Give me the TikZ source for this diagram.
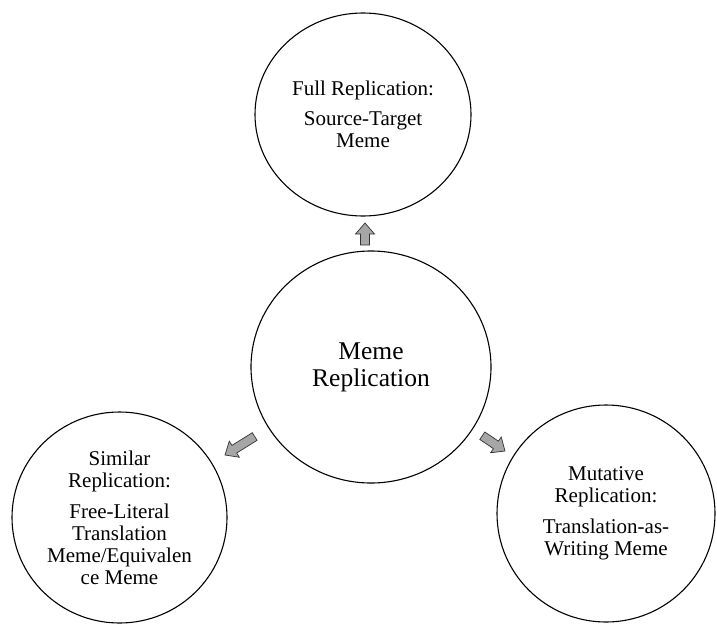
\documentclass[tikz,border=0pt]{standalone}
\usepackage{fontspec}
\setmainfont{Liberation Serif}
\usetikzlibrary{shapes.geometric}
\definecolor{arrowgray}{HTML}{A6A6A6}
\tikzset{
  bubble/.style={ellipse, draw=black, line width=1.1pt, inner sep=0pt, align=center,
    font=\fontsize{21}{22}\selectfont},
  bigbubble/.style={bubble, font=\fontsize{25.5}{27}\selectfont},
  barrow/.style={fill=arrowgray, draw=black!80, line width=0.7pt, line join=miter}
}
\newcommand{\blockarr}[4]{%
  \begin{scope}[shift={(#1,#2)},rotate=#3]
    \draw[barrow] (0,-4.5) -- (#4-11,-4.5) -- (#4-11,-9.5) -- (#4,0) -- (#4-11,9.5) -- (#4-11,4.5) -- (0,4.5) -- cycle;
  \end{scope}}
\begin{document}
\begin{tikzpicture}[x=1pt,y=-1pt]
\useasboundingbox (0,0) rectangle (717,624);
\node[bubble, minimum width=216pt, minimum height=203pt] (full) at (363,114.5)
  {Full Replication:\\[8pt]Source-Target\\Meme};
\node[bigbubble, minimum width=240pt, minimum height=232pt] (meme) at (371,367)
  {Meme\\Replication};
\node[bubble, minimum width=215pt, minimum height=211pt] (similar) at (119.5,517.5)
  {Similar\\Replication:\\[9pt]Free-Literal\\Translation\\Meme/Equivalen\\ce Meme};
\node[bubble, minimum width=218pt, minimum height=217pt] (mutative) at (606,513.5)
  {Mutative\\Replication:\\[9pt]Translation-as-\\Writing Meme};
% block arrows
\blockarr{365}{245}{90}{22}
\blockarr{254.7}{436.5}{211.9}{35}
\blockarr{482.3}{435.7}{-34}{27.4}
\end{tikzpicture}
\end{document}
